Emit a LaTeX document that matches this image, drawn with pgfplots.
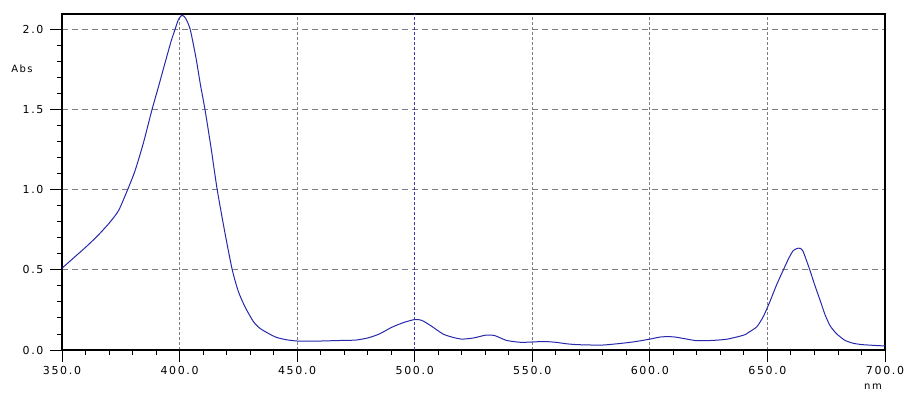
\documentclass[border=0pt]{standalone}
\usepackage{fontspec}
\setmainfont{DejaVu Sans}
\newfontfamily\tickfont[LetterSpace=15]{DejaVu Sans}
\usepackage{pgfplots}
\pgfplotsset{compat=1.18}
\definecolor{curve}{RGB}{40,40,170}
\definecolor{gridgray}{RGB}{125,125,130}
\definecolor{gridblue}{RGB}{60,60,170}
\begin{document}
\begin{tikzpicture}
\useasboundingbox (-62pt,-42pt) rectangle (846pt,350pt);
\begin{axis}[
  name=ax,
  scale only axis, width=823pt, height=336pt, at={(0,0)}, anchor=south west,
  xmin=350, xmax=700, ymin=0, ymax=2.095,
  xtick={350,400,...,700}, minor x tick num=4,
  ytick={0,0.5,1,1.5,2}, minor y tick num=4,
  tick align=outside, xtick pos=left, ytick pos=left,
  /pgf/number format/.cd, fixed, fixed zerofill, precision=1, assume math mode=true, 1000 sep={},
  /pgfplots/.cd,
  major tick length=12pt, minor tick length=5pt,
  tick style={black, line width=0.9pt},
  axis line style={black, line width=1.4pt},
  grid=major,
  x grid style={gridgray, line width=0.9pt, dash pattern=on 3pt off 2pt},
  y grid style={gridgray, line width=0.9pt, dash pattern=on 6pt off 4pt},
  ticklabel style={font=\tickfont\fontsize{11}{12}\selectfont},
  xticklabel style={yshift=-1pt},
  yticklabel style={xshift=-3pt},
  clip=false,
]
\draw[gridblue, line width=0.9pt, dash pattern=on 3pt off 2pt] (axis cs:500,0) -- (axis cs:500,2.095);
\addplot[curve, line width=1pt, smooth, tension=0.4] coordinates {
(350,0.51) (355,0.575) (360,0.64) (365,0.71) (370,0.79) (374,0.868) (377.5,0.985)
(381,1.115) (384.6,1.29) (388.3,1.50) (391,1.64) (394,1.80) (396.5,1.93) (398.1,2.00)
(399.5,2.06) (401,2.087) (402.5,2.07) (404.5,2.00) (407,1.82) (408.8,1.66) (410.8,1.50)
(413.5,1.25) (416,1.00) (419.3,0.73) (422.4,0.50) (425,0.365) (427.8,0.27) (431.4,0.177)
(434.2,0.135) (437.7,0.104) (441,0.08) (445,0.065) (450,0.056) (455,0.055) (460,0.056)
(465,0.058) (470,0.06) (475,0.062) (480,0.075) (485,0.10) (490,0.14) (495,0.17)
(500,0.19) (503,0.185) (507,0.15) (512,0.10) (516,0.08) (520,0.068) (525,0.075)
(530,0.092) (534,0.09) (539,0.06) (545,0.048) (550,0.05) (555,0.053) (560,0.048)
(565,0.038) (570,0.033) (580,0.031) (590,0.045) (595,0.055) (600,0.068) (605,0.082)
(610,0.082) (615,0.07) (620,0.058) (627,0.06) (633,0.068) (640,0.093) (642,0.11)
(645.5,0.145) (648.3,0.21) (651,0.30) (654,0.41) (656.8,0.50) (659,0.57) (661,0.62)
(663.2,0.635) (665,0.62) (668,0.50) (670,0.41) (672.4,0.31) (674.5,0.22) (676.7,0.15)
(679.5,0.10) (683,0.06) (686.5,0.042) (690,0.034) (694,0.03) (700,0.025)
};
\end{axis}
\node[font=\tickfont\fontsize{10}{11}\selectfont] at (-40pt,281pt) {Abs};
\node[font=\tickfont\fontsize{10}{11}\selectfont] at (811pt,-37pt) {nm};
\end{tikzpicture}
\end{document}
